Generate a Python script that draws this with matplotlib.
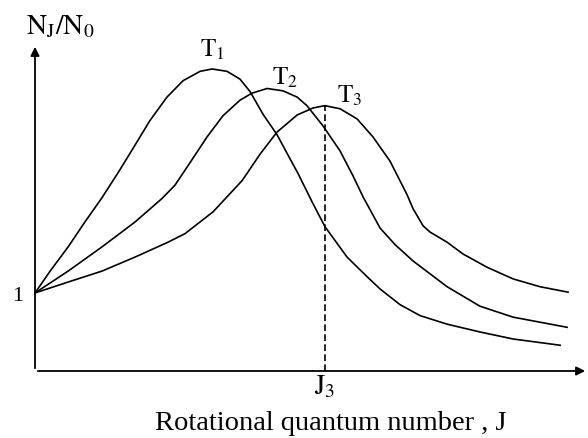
import matplotlib
matplotlib.use("Agg")
import matplotlib.pyplot as plt

plt.rcParams['font.family'] = ['Liberation Serif', 'DejaVu Serif']
plt.rcParams['mathtext.fontset'] = 'stix'

# values (J in arbitrary units, N_J/N_0 ratio)
j_t1 = [0, 0.63, 1.38, 2.08, 2.79, 3.46, 4.08, 4.79, 5.50, 6.17, 6.88, 7.38,
        8.00, 8.54, 8.96, 9.50, 10.08, 10.50, 10.96, 11.54, 12.08, 13.00,
        13.83, 14.38, 15.21, 16.04, 17.17, 18.54, 19.92, 21.88]
n_t1 = [1.00, 1.28, 1.59, 1.91, 2.22, 2.54, 2.85, 3.21, 3.51, 3.72, 3.84, 3.87,
        3.84, 3.74, 3.58, 3.29, 3.03, 2.79, 2.53, 2.17, 1.85, 1.46,
        1.21, 1.05, 0.85, 0.71, 0.60, 0.50, 0.41, 0.33]

j_t2 = [0, 1.38, 2.79, 4.17, 5.29, 5.83, 6.46, 7.17, 7.83, 8.54, 9.04, 9.67,
        10.33, 10.92, 11.33, 12.00, 12.71, 13.25, 13.67, 14.38, 15.00, 15.75,
        17.17, 18.54, 19.92, 22.17]
n_t2 = [1.00, 1.28, 1.59, 1.91, 2.21, 2.38, 2.67, 3.00, 3.27, 3.47, 3.56, 3.62,
        3.59, 3.51, 3.40, 3.14, 2.82, 2.50, 2.23, 1.83, 1.62, 1.41,
        1.08, 0.83, 0.69, 0.56]

j_t3 = [0, 1.38, 2.79, 4.17, 5.54, 6.25, 7.42, 8.63, 9.38, 10.08, 10.92, 11.58,
        12.08, 12.71, 13.42, 14.08, 14.79, 15.50, 15.75, 16.17, 16.46, 17.17,
        17.83, 18.83, 19.92, 21.04, 22.21]
n_t3 = [1.00, 1.14, 1.28, 1.46, 1.65, 1.76, 2.04, 2.44, 2.78, 3.06, 3.28, 3.37,
        3.40, 3.36, 3.23, 3.00, 2.69, 2.26, 2.08, 1.86, 1.78, 1.65,
        1.50, 1.33, 1.18, 1.08, 1.01]

j3 = 12.08
curve_labels = [r'$\mathrm{T_1}$', r'$\mathrm{T_2}$', r'$\mathrm{T_3}$']
label_pos = [(7.38, 4.13), (10.42, 3.77), (13.13, 3.54)]

fig = plt.figure(figsize=(5.88, 4.39), dpi=100)
ax = fig.add_axes([35/588, 67/439, 553/588, 327/439])
ax.set_xlim(0, 23.04)
ax.set_ylim(0, 4.19)

for jj, nn in [(j_t1, n_t1), (j_t2, n_t2), (j_t3, n_t3)]:
    ax.plot(jj, nn, color='black', lw=1.2, clip_on=False,
            solid_joinstyle='round')

ax.plot([j3, j3], [0, max(n_t3)], color='black', lw=1.2, ls=(0, (4, 2)))

for lab, (x, y) in zip(curve_labels, label_pos):
    ax.text(x, y, lab, fontsize=18, ha='center', va='center', clip_on=False)

# axes with arrow heads
for sp in ax.spines.values():
    sp.set_visible(False)
ax.set_xticks([])
ax.set_yticks([])
ax.annotate('', xy=(1.0, 0), xytext=(0, 0), xycoords='axes fraction',
            arrowprops=dict(arrowstyle='-|>', color='black', lw=1.3, mutation_scale=13))
ax.annotate('', xy=(0, 1.0), xytext=(0, 0), xycoords='axes fraction',
            arrowprops=dict(arrowstyle='-|>', color='black', lw=1.3, mutation_scale=13))

ax.text(-0.71, 0.97, '1', fontsize=16, ha='center', va='center', clip_on=False)
ax.text(1.04, 4.42, r'$\mathrm{N_J/N_0}$', fontsize=20, ha='center', va='center', clip_on=False)
ax.text(j3, -0.19, r'$\mathrm{J_3}$', fontsize=20, ha='center', va='center', clip_on=False)
ax.text(12.33, -0.66, 'Rotational quantum number , J', fontsize=20.5,
        ha='center', va='center', clip_on=False)

fig.savefig('out.png', dpi=100)
